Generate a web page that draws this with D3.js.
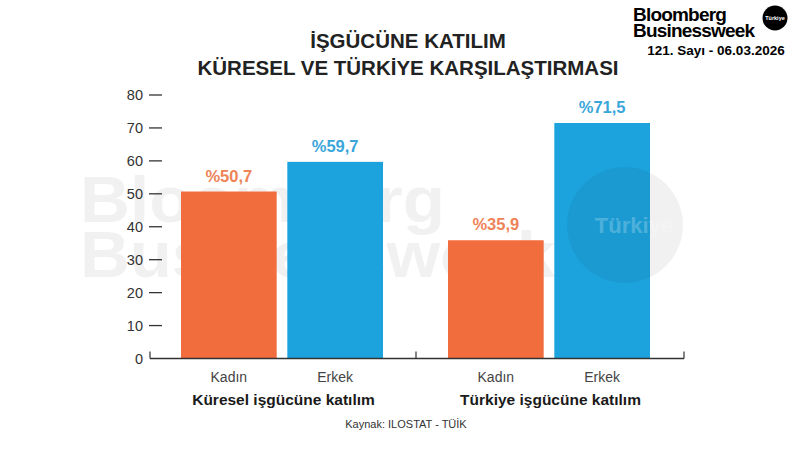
<!DOCTYPE html>
<html><head><meta charset="utf-8">
<script src="https://cdn.jsdelivr.net/npm/d3@7"></script>
<style>body{margin:0;background:#fff;}svg{display:block;font-family:"Liberation Sans",Arial,sans-serif;}</style>
</head><body>
<svg id="c" width="800" height="450"></svg>
<script>
const groups = ["Küresel işgücüne katılım", "Türkiye işgücüne katılım"];
const genders = ["Kadın", "Erkek"];
const kadinValues = [50.7, 35.9];
const erkekValues = [59.7, 71.5];
const valueLabels = [["%50,7", "%59,7"], ["%35,9", "%71,5"]];
const yTicks = [0, 10, 20, 30, 40, 50, 60, 70, 80];

const svg = d3.select("#c");
const orange = "#f26d3d", blue = "#1ca3de";
const orangeText = "#ef8358", blueText = "#3aa6da";

const y = d3.scaleLinear().domain([0, 80]).range([358.5, 95]);
const x0 = d3.scaleBand().domain(groups).range([150, 684]).paddingInner(0).paddingOuter(0);
const x1 = d3.scaleBand().domain(genders).range([31, 233]).paddingInner(0.1);

// watermark
const wm = svg.append("g").attr("fill", "#000").attr("opacity", 0.05);
wm.append("text").attr("x", 80).attr("y", 222).attr("font-size", 64).attr("font-weight", 700)
  .attr("textLength", 365).attr("lengthAdjust", "spacingAndGlyphs").text("Bloomberg");
wm.append("text").attr("x", 80).attr("y", 277).attr("font-size", 64).attr("font-weight", 700)
  .attr("textLength", 475).attr("lengthAdjust", "spacingAndGlyphs").text("Businessweek");

// bars
const data = groups.map((g, i) => ({ g, vals: [kadinValues[i], erkekValues[i]], labs: valueLabels[i] }));
const gg = svg.append("g").selectAll("g").data(data).join("g")
  .attr("transform", d => `translate(${x0(d.g)},0)`);
gg.selectAll("rect").data(d => d.vals.map((v, j) => ({ v, k: genders[j], j })))
  .join("rect")
  .attr("x", d => x1(d.k)).attr("width", x1.bandwidth())
  .attr("y", d => y(d.v)).attr("height", d => y(0) - y(d.v))
  .attr("fill", d => d.j === 0 ? orange : blue);
gg.selectAll("text.val").data(d => d.vals.map((v, j) => ({ v, k: genders[j], j, lab: d.labs[j] })))
  .join("text").attr("class", "val")
  .attr("x", d => x1(d.k) + x1.bandwidth() / 2).attr("y", d => y(d.v) - 10)
  .attr("text-anchor", "middle").attr("font-size", 16.5).attr("font-weight", 700)
  .attr("fill", d => d.j === 0 ? orangeText : blueText).text(d => d.lab);
gg.selectAll("text.cat").data(genders).join("text").attr("class", "cat")
  .attr("x", d => x1(d) + x1.bandwidth() / 2).attr("y", 382)
  .attr("text-anchor", "middle").attr("font-size", 14).attr("fill", "#444").text(d => d);
gg.append("text").attr("x", x0.bandwidth() / 2).attr("y", 405)
  .attr("text-anchor", "middle").attr("font-size", 15.5).attr("font-weight", 700)
  .attr("fill", "#1a1a1a").text(d => d.g);

// türkiye circle watermark (over bars)
svg.append("circle").attr("cx", 625).attr("cy", 225).attr("r", 58).attr("fill", "#000").attr("opacity", 0.055);
svg.append("text").attr("x", 634).attr("y", 233).attr("text-anchor", "middle").attr("font-size", 22)
  .attr("font-weight", 700).attr("fill", "#fff").attr("opacity", 0.22).text("Türkiye");

// y axis
const ya = svg.append("g");
ya.selectAll("line.t").data(yTicks.filter(t => t > 0)).join("line")
  .attr("x1", 149).attr("x2", 162).attr("y1", d => y(d)).attr("y2", d => y(d))
  .attr("stroke", "#333").attr("stroke-width", 1.3);
ya.selectAll("text").data(yTicks).join("text")
  .attr("x", 143).attr("y", d => y(d) + 5).attr("text-anchor", "end")
  .attr("font-size", 14.5).attr("fill", "#333").text(d => d);
// baseline
svg.append("line").attr("x1", 150).attr("x2", 684).attr("y1", y(0)).attr("y2", y(0)).attr("stroke", "#333").attr("stroke-width", 1.3);
[150, 416, 684].forEach(xx => svg.append("line").attr("x1", xx).attr("x2", xx).attr("y1", y(0) - 7).attr("y2", y(0)).attr("stroke", "#333").attr("stroke-width", 1.2));

// title
svg.append("text").attr("x", 408).attr("y", 48).attr("text-anchor", "middle").attr("font-size", 20.5).attr("font-weight", 700).attr("fill", "#222").text("İŞGÜCÜNE KATILIM");
svg.append("text").attr("x", 408).attr("y", 75).attr("text-anchor", "middle").attr("font-size", 20.5).attr("font-weight", 700).attr("fill", "#222").text("KÜRESEL VE TÜRKİYE KARŞILAŞTIRMASI");

// source
svg.append("text").attr("x", 406).attr("y", 428).attr("text-anchor", "middle").attr("font-size", 11).attr("fill", "#333").text("Kaynak: ILOSTAT - TÜİK");

// logo
const lg = svg.append("g");
lg.append("text").attr("x", 633).attr("y", 21).attr("font-size", 19).attr("font-weight", 700).attr("letter-spacing", -0.8).attr("fill", "#000").text("Bloomberg");
lg.append("text").attr("x", 633).attr("y", 37).attr("font-size", 19).attr("font-weight", 700).attr("letter-spacing", -0.8).attr("fill", "#000").text("Businessweek");
lg.append("circle").attr("cx", 775).attr("cy", 18).attr("r", 12.5).attr("fill", "#000");
lg.append("text").attr("x", 775).attr("y", 20).attr("text-anchor", "middle").attr("font-size", 5.5).attr("font-weight", 700).attr("fill", "#fff").text("Türkiye");
lg.append("text").attr("x", 716).attr("y", 55).attr("text-anchor", "middle").attr("font-size", 13.5).attr("font-weight", 700).attr("fill", "#000").text("121. Sayı - 06.03.2026");
</script>
</body></html>
